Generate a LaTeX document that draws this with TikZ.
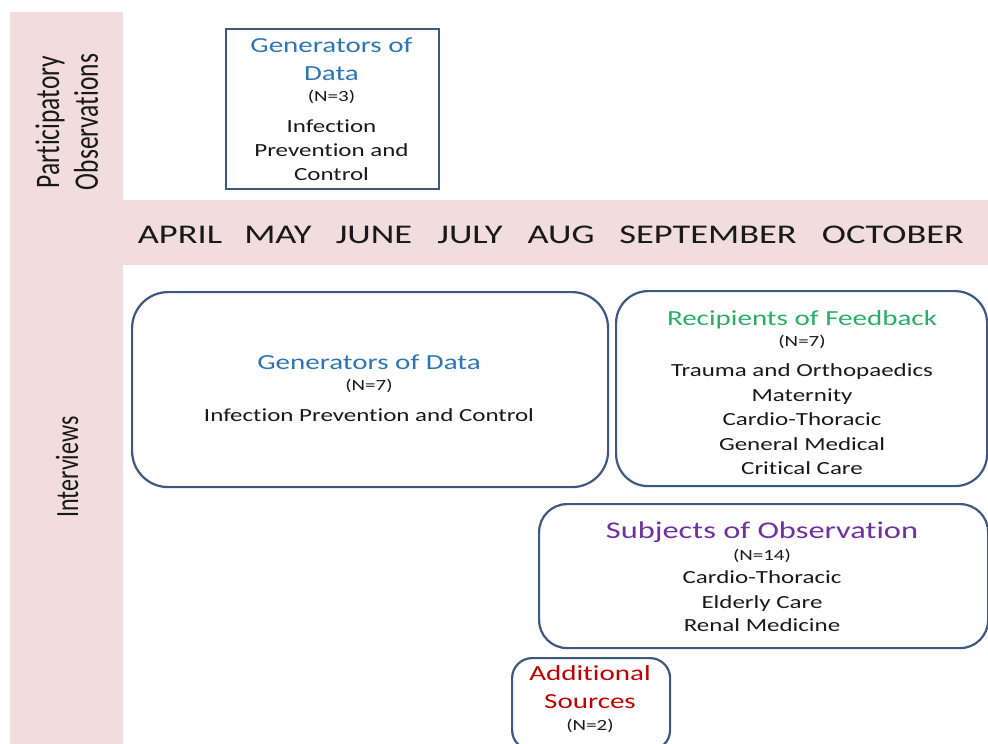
\documentclass[tikz,border=0pt]{standalone}
\usepackage{fontspec}
\setmainfont{Carlito}[FakeStretch=1.35, RawFeature={-liga}]
\newfontfamily\rotfont{Carlito}[FakeStretch=0.74, RawFeature={-liga}]
\definecolor{pinkbg}{RGB}{241,221,221}
\definecolor{boxblue}{RGB}{62,88,130}
\definecolor{tblue}{RGB}{46,117,182}
\definecolor{tgreen}{RGB}{40,175,100}
\definecolor{tpurple}{RGB}{112,48,160}
\definecolor{tred}{RGB}{192,0,0}
\definecolor{txtblack}{RGB}{25,25,25}
\begin{document}
\begin{tikzpicture}[x=1pt,y=-1pt,
  box/.style={draw=boxblue, line width=2.2pt, fill=white, anchor=north west, inner sep=0pt},
  rbox/.style={box, rounded corners=#1},
  body/.style={inner sep=0pt, anchor=base, text=txtblack, font=\fontsize{18.5}{20}\selectfont},
  small/.style={inner sep=0pt, anchor=base, text=txtblack, font=\fontsize{15.5}{17}\selectfont},
  title/.style={inner sep=0pt, anchor=base, text=#1, font=\fontsize{21.5}{24}\selectfont},
  month/.style={inner sep=0pt, anchor=base, text=txtblack, font=\fontsize{27}{30}\selectfont},
  side/.style={inner sep=0pt, rotate=90, text=txtblack, font=\rotfont\fontsize{#1}{#1}\selectfont}
]
\useasboundingbox (0,0) rectangle (988,744);
% background bands
\fill[pinkbg] (10,12) rectangle (123,744);
\fill[pinkbg] (123,200) rectangle (988,265);

% side labels
\node[side=34.4] (lp1) at (50,122) {Participatory};
\node[side=34.4] (lp2) at (86,122) {Observations};
\node[side=32.4] (lint) at (67,467) {Interviews};

% months
\node[month] (m1) at (180,243) {APRIL};
\node[month] (m2) at (278,243) {MAY};
\node[month] (m3) at (374,243) {JUNE};
\node[month] (m4) at (470,243) {JULY};
\node[month] (m5) at (561,243) {AUG};
\node[month] (m6) at (708,243) {SEPTEMBER};
\node[month] (m7) at (893,243) {OCTOBER};

% participatory observation box
\node[box, minimum width=213pt, minimum height=160pt] (po) at (225,28) {};
\node[title=tblue] (poA) at (331.5,52.5) {Generators of};
\node[title=tblue] (poB) at (331.5,80) {Data};
\node[small] (poN) at (331.5,101.5) {(N=3)};
\node[body] (poC) at (331.5,132.5) {Infection};
\node[body] (poD) at (331.5,156.5) {Prevention and};
\node[body] (poE) at (331.5,180) {Control};

% interviews: generators of data
\node[rbox=36pt, minimum width=476pt, minimum height=195pt] (gen) at (131,291) {};
\node[title=tblue] (genA) at (369,369) {Generators of Data};
\node[small] (genN) at (369,390.5) {(N=7)};
\node[body] (genB) at (369,421) {Infection Prevention and Control};

% recipients of feedback
\node[rbox=32pt, minimum width=371pt, minimum height=195pt] (rec) at (615,290) {};
\node[title=tgreen] (recA) at (802,325) {Recipients of Feedback};
\node[small] (recN) at (802,346.5) {(N=7)};
\node[body] (recB) at (802,376.5) {Trauma and Orthopaedics};
\node[body] (recC) at (802,401) {Maternity};
\node[body] (recD) at (802,425.5) {Cardio-Thoracic};
\node[body] (recE) at (802,450) {General Medical};
\node[body] (recF) at (802,474.5) {Critical Care};

% subjects of observation
\node[rbox=28pt, minimum width=449pt, minimum height=144pt] (sub) at (538,503) {};
\node[inner sep=0pt, anchor=base, text=tpurple, font=\fontsize{24}{26}\selectfont] (subA) at (762,538.5) {Subjects of Observation};
\node[small] (subN) at (762,560) {(N=14)};
\node[body] (subB) at (762,583.5) {Cardio-Thoracic};
\node[body] (subC) at (762,608) {Elderly Care};
\node[body] (subD) at (762,631.5) {Renal Medicine};

% additional sources
\node[rbox=20pt, minimum width=158pt, minimum height=92pt] (add) at (511,657) {};
\node[title=tred] (addA) at (590,680) {Additional};
\node[title=tred] (addB) at (590,708) {Sources};
\node[small] (addN) at (590,730) {(N=2)};
\end{tikzpicture}
\end{document}
